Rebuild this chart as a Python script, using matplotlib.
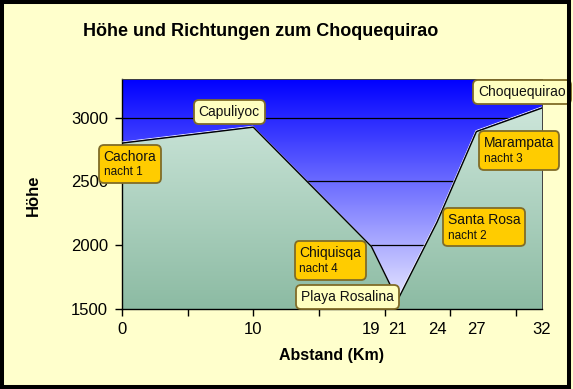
import numpy as np
import matplotlib
matplotlib.use('Agg')
import matplotlib.pyplot as plt
from matplotlib.colors import LinearSegmentedColormap
from matplotlib.offsetbox import TextArea, VPacker, AnnotationBbox
from matplotlib.patches import Rectangle
import matplotlib.transforms as mtransforms

plt.rcParams['font.family'] = ['Liberation Sans', 'DejaVu Sans']

# data
km = [0, 10, 19, 21, 24, 27, 32]
hoehe = [2800, 2925, 1990, 1570, 2180, 2890, 3075]
orte = ['Cachora', 'Capuliyoc', 'Chiquisqa', 'Playa Rosalina', 'Santa Rosa', 'Marampata', 'Choquequirao']
naechte = ['nacht 1', '', 'nacht 4', '', 'nacht 2', 'nacht 3', '']
xlabels = ['0', '10', '19', '21', '24', '27', '32']

# label box offsets from the point (pixels, y up)
offsets = [(8, -21), (-24, 15), (-41, -14), (-50, 3), (47, -5), (43, -19), (-20, 16)]

bg = '#FFFFCC'
fig = plt.figure(figsize=(5.73, 3.89), dpi=100, facecolor=bg)
ax = fig.add_axes([122/573, 1-309/389, 420/573, (309-79.3)/389])
ax.set_xlim(0, 32)
ax.set_ylim(1500, 3300)

# blue gradient background
sky = LinearSegmentedColormap.from_list('sky', ['#0000FF', '#7878FF', '#F0F0FF'])
grad = np.linspace(0, 1, 256).reshape(-1, 1)
ax.imshow(grad, cmap=sky, extent=[0, 32, 1500, 3300], aspect='auto', origin='upper', zorder=0)

for g in [2000, 2500, 3000]:
    ax.axhline(g, color='black', lw=0.9, zorder=1)

# green gradient area
poly = ax.fill_between(km, hoehe, 1500, color='none', zorder=2)
green = LinearSegmentedColormap.from_list('green', ['#D6ECE2', '#8CBBA3'])
im = ax.imshow(grad, cmap=green, extent=[0, 32, 1500, 3300], aspect='auto', origin='upper', zorder=2)
im.set_clip_path(poly.get_paths()[0], transform=ax.transData)

shift = mtransforms.offset_copy(ax.transData, fig=fig, x=-0.5, y=1.0, units='dots')
ax.plot(km, hoehe, color='white', lw=0.6, transform=shift, zorder=3)
ax.plot(km, hoehe, color='black', lw=1.0, zorder=4)

ax.xaxis.remove_overlapping_locs = False
ax.set_xticks(np.arange(0, 31, 5))
ax.set_xticklabels([])
ax.set_xticks(km, minor=True)
ax.set_xticklabels(xlabels, minor=True)
ax.tick_params(axis='x', which='major', length=5, width=1, direction='out')
ax.tick_params(axis='x', which='minor', length=0, pad=9, labelsize=12)
ax.set_yticks([1500, 2000, 2500, 3000])
ax.tick_params(axis='y', length=5, width=1, pad=5, labelsize=12)

for s in ['left', 'bottom']:
    ax.spines[s].set_color('black')
    ax.spines[s].set_linewidth(1.0)
for s in ['top', 'right']:
    ax.spines[s].set_color('#404040')
    ax.spines[s].set_linewidth(0.7)

for i in range(len(km)):
    kids = [TextArea(orte[i], textprops=dict(size=10, color='#111111'))]
    if naechte[i]:
        kids.append(TextArea(naechte[i], textprops=dict(size=8.5, color='#111111')))
        fc = '#FFCC00'
    else:
        fc = '#FFFFC0'
    box = VPacker(children=kids, align='left', pad=0, sep=2)
    dx, dy = offsets[i]
    ab = AnnotationBbox(box, (km[i], hoehe[i]), xybox=(dx/1.389, dy/1.389),
                        boxcoords='offset points', frameon=True, pad=0.3,
                        bboxprops=dict(boxstyle='round,pad=0.35', fc=fc, ec='#806C28', lw=1.3),
                        annotation_clip=False, zorder=6)
    ax.add_artist(ab)

fig.text(261/573, 1-31.7/389, 'Höhe und Richtungen zum Choquequirao', ha='center', va='center',
         fontsize=13, fontweight='bold')
fig.text(33/573, 1-195/389, 'Höhe', ha='center', va='center', rotation=90, fontsize=12, fontweight='bold')
fig.text(331.7/573, 1-355.7/389, 'Abstand (Km)', ha='center', va='center', fontsize=11.5, fontweight='bold')

fig.patches.append(Rectangle((2/573, 2/389), 567/573, 385/389, transform=fig.transFigure,
                             fill=False, ec='black', lw=2.9, zorder=10))

fig.savefig('out.png', dpi=100, facecolor=bg)
